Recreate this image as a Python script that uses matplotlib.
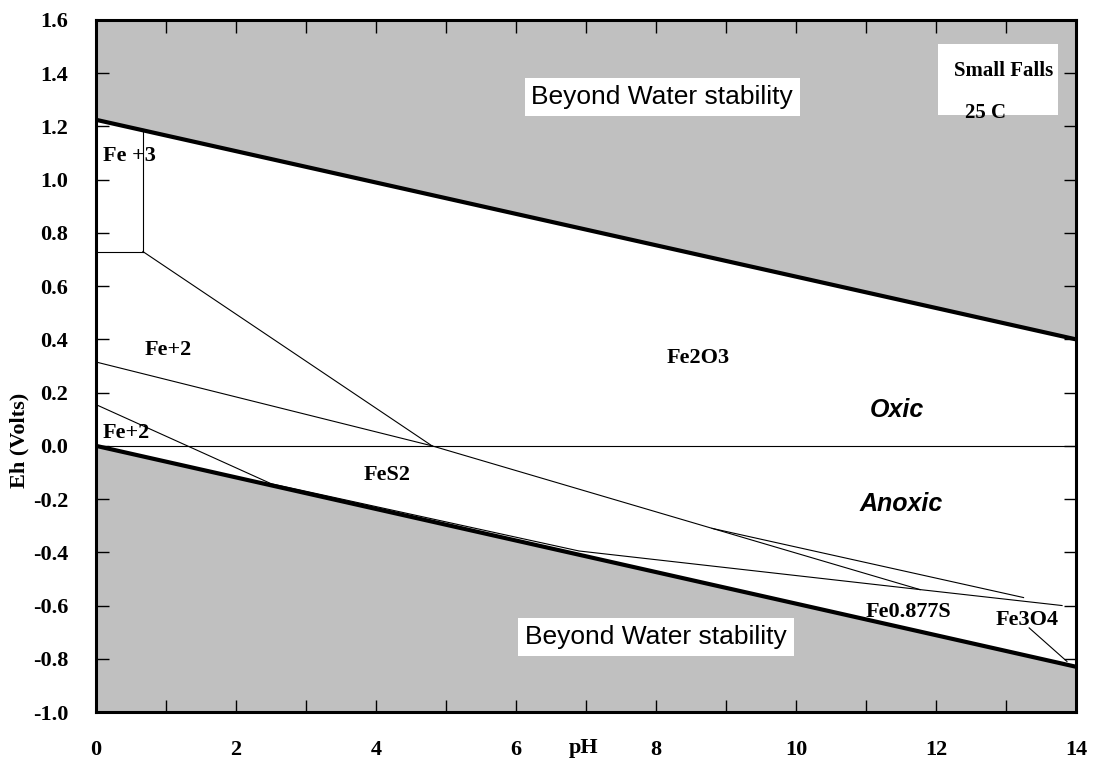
import matplotlib.pyplot as plt
from matplotlib.ticker import MultipleLocator, FormatStrFormatter

# water stability limits
water_ph = [0, 14]
upper_eh = [1.225, 0.40]
lower_eh = [0.0, -0.83]

# phase boundaries (pH, Eh)
boundaries = [
    ([0.67, 0.67], [0.73, 1.19]),
    ([0.0, 0.67], [0.73, 0.73]),
    ([0.67, 4.8], [0.73, 0.0]),
    ([0.0, 4.8], [0.315, 0.0]),
    ([4.8, 11.77], [0.0, -0.54]),
    ([8.8, 13.25], [-0.31, -0.57]),
    ([11.77, 13.8], [-0.54, -0.60]),
    ([0.0, 2.5], [0.155, -0.142]),
    ([2.5, 6.9, 11.77], [-0.142, -0.395, -0.54]),
    ([13.33, 13.87], [-0.684, -0.81]),
    ([0.0, 14.0], [0.0, 0.0]),
]

species = ['Fe +3', 'Fe+2', 'Fe+2', 'Fe2O3', 'FeS2', 'Fe0.877S', 'Fe3O4']
species_ph = [0.1, 0.7, 0.1, 8.6, 4.16, 11.6, 13.3]
species_eh = [1.09, 0.36, 0.05, 0.33, -0.11, -0.625, -0.655]
species_ha = ['left', 'left', 'left', 'center', 'center', 'center', 'center']

serif = 'Liberation Serif'
sans = 'Liberation Sans'
gray = '#c0c0c0'

fig = plt.figure(figsize=(10.93, 7.62), dpi=100)
ax = fig.add_axes([0.0878, 0.0656, 0.8967, 0.9082])

ax.fill_between(water_ph, upper_eh, 1.6, color=gray, lw=0)
ax.fill_between(water_ph, -1.0, lower_eh, color=gray, lw=0)
ax.plot(water_ph, upper_eh, color='black', lw=3)
ax.plot(water_ph, lower_eh, color='black', lw=3)

for ph, eh in boundaries:
    ax.plot(ph, eh, color='black', lw=0.8)

for name, x, y, ha in zip(species, species_ph, species_eh, species_ha):
    ax.text(x, y, name, ha=ha, va='center', family=serif,
            fontweight='bold', fontsize=16)

ax.text(11.44, 0.135, 'Oxic', ha='center', va='center', family=sans,
        fontweight='bold', style='italic', fontsize=18)
ax.text(11.5, -0.22, 'Anoxic', ha='center', va='center', family=sans,
        fontweight='bold', style='italic', fontsize=18)

box = dict(facecolor='white', edgecolor='none', pad=5)
ax.text(8.09, 1.31, 'Beyond Water stability', ha='center', va='center',
        family=sans, fontsize=19, bbox=box)
ax.text(8.0, -0.718, 'Beyond Water stability', ha='center', va='center',
        family=sans, fontsize=19, bbox=box)

ax.fill_between([12.03, 13.74], 1.243, 1.51, color='white', lw=0)
ax.text(12.97, 1.41, 'Small Falls', ha='center', va='center', family=serif,
        fontweight='bold', fontsize=15)
ax.text(12.7, 1.25, '25 C', ha='center', va='center', family=serif,
        fontweight='bold', fontsize=15)

ax.xaxis.set_major_locator(MultipleLocator(2))
ax.xaxis.set_minor_locator(MultipleLocator(1))
ax.yaxis.set_major_locator(MultipleLocator(0.2))
ax.yaxis.set_major_formatter(FormatStrFormatter('%.1f'))
ax.set_xlim(0, 14)
ax.set_ylim(-1.0, 1.6)
ax.tick_params(which='both', direction='in', top=True, right=True,
               length=9, width=1)
ax.tick_params(axis='x', pad=20)
ax.tick_params(axis='y', pad=20)
for lab in ax.get_xticklabels() + ax.get_yticklabels():
    lab.set_family(serif)
    lab.set_fontweight('bold')
    lab.set_fontsize(16)
for s in ax.spines.values():
    s.set_linewidth(2.2)

ax.set_ylabel('Eh (Volts)', family=serif, fontweight='bold', fontsize=16)
ax.yaxis.set_label_coords(-0.068, 0.393)
ax.text(0.497, -0.052, 'pH', transform=ax.transAxes, ha='center', va='center',
        family=serif, fontweight='bold', fontsize=16)

fig.savefig('out.png', dpi=100)
